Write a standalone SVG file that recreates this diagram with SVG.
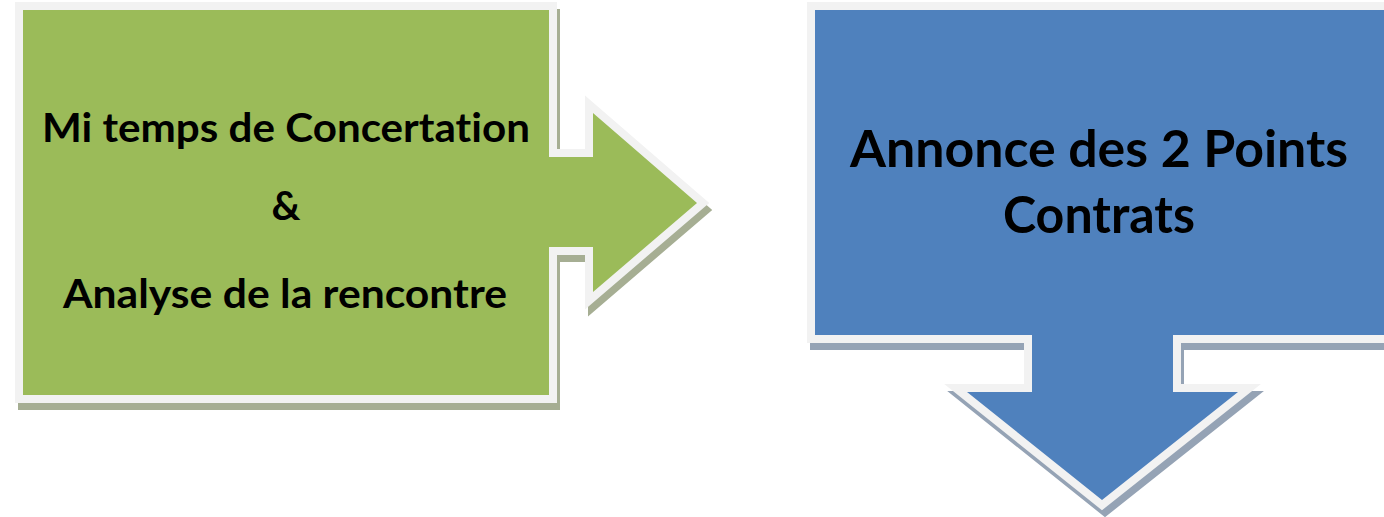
<svg xmlns="http://www.w3.org/2000/svg" width="1384" height="517" viewBox="0 0 1384 517">
  <style>
    .rim { fill: none; stroke: #f2f2f2; stroke-width: 16; stroke-linejoin: miter; stroke-miterlimit: 10; }
    .shade { stroke-width: 16; stroke-linejoin: miter; stroke-miterlimit: 10; }
    .label { font-family: Lato, "Open Sans", "Liberation Sans", sans-serif; font-weight: bold; fill: #000; text-anchor: middle; font-variant-ligatures: none; font-feature-settings: "liga" 0, "clig" 0; }
  </style>
  <defs>
    <polygon id="rightArrow" points="23,10 549,10 549,157 593,157 593,113 697,203 593,292 593,247 549,247 549,395 23,395"/>
    <polygon id="downArrow" points="815,10 1400,10 1400,335 1173,335 1173,392 1238,392 1102,500 967,392 1032,392 1032,335 815,335"/>
  </defs>
  <rect width="1384" height="517" fill="#ffffff"/>

  <!-- Step 1: right-pointing callout -->
  <g id="node-concertation">
    <use href="#rightArrow" class="shade" fill="#a6ae93" stroke="#a6ae93" transform="translate(3,7)"/>
    <use href="#rightArrow" class="rim"/>
    <use href="#rightArrow" fill="#9bbb59"/>
    <text class="label" x="286" y="142" font-size="40" textLength="488" lengthAdjust="spacingAndGlyphs">Mi temps de Concertation</text>
    <text class="label" x="286" y="220" font-size="40">&amp;</text>
    <text class="label" x="285" y="308" font-size="40" textLength="444" lengthAdjust="spacingAndGlyphs">Analyse de la rencontre</text>
  </g>

  <!-- Step 2: down-pointing callout -->
  <g id="node-annonce">
    <use href="#downArrow" class="shade" fill="#95a3b5" stroke="#95a3b5" transform="translate(3,7)"/>
    <use href="#downArrow" class="rim"/>
    <use href="#downArrow" fill="#4f81bd"/>
    <text class="label" x="1099" y="167" font-size="52" textLength="498" lengthAdjust="spacingAndGlyphs">Annonce des 2 Points</text>
    <text class="label" x="1099" y="233" font-size="52" textLength="192" lengthAdjust="spacingAndGlyphs">Contrats</text>
  </g>

  <g id="connectors"></g>
</svg>
